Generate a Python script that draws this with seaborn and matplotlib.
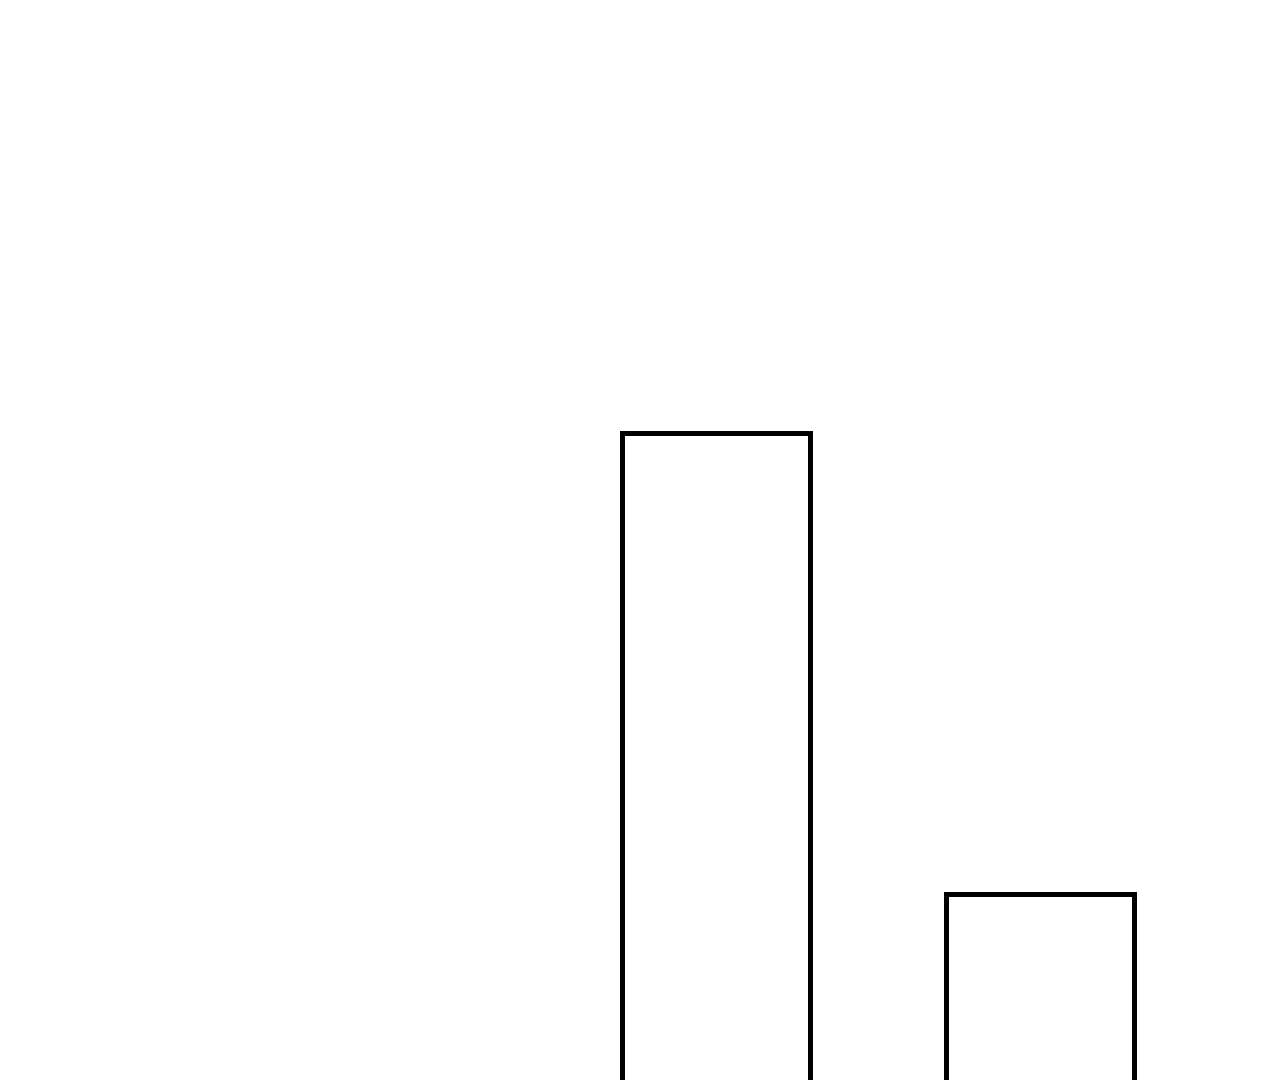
import matplotlib
matplotlib.use("Agg")
import matplotlib.pyplot as plt
import seaborn as sns
import pandas as pd

categories = ["A", "B"]
values = [24, 7]

sns.set_style("white")
plt.rcParams['font.family'] = ['DejaVu Sans']

df = pd.DataFrame({"category": categories, "value": values})

fig = plt.figure(figsize=(12.8, 10.8), dpi=100)
ax = fig.add_axes([0, 0, 1, 1])
sns.barplot(data=df, x="category", y="value", ax=ax, fill=False,
            edgecolor="black", linewidth=3.6, width=0.58, errorbar=None)
ax.set_xlim(-2.21, 1.741)
ax.set_ylim(0.12, 40.0)
ax.set_axis_off()
fig.savefig("out.png", dpi=100, facecolor="white")
